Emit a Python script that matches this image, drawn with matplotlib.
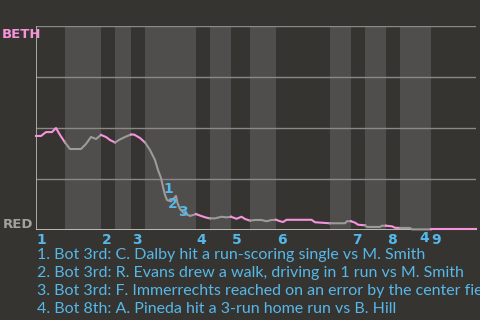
import numpy as np
import matplotlib.pyplot as plt

plt.rcParams['font.family'] = ['Lato', 'DejaVu Sans']
label_font = ['DejaVu Sans Condensed', 'DejaVu Sans']

# game progress (arbitrary units) and BETH win probability (%)
progress = [0, 5, 10, 16, 20, 24, 29, 34, 45, 50, 55, 60, 65, 70, 74, 79, 84, 89, 95, 98,
            104, 109, 114, 119, 122, 125, 127, 129, 131, 135, 140, 141.5, 144, 147, 154, 160,
            165, 170, 174, 179, 185.5, 190.5, 195, 200.5, 205.5, 209, 214, 219, 225.5, 230.5,
            235.5, 240, 244, 247, 250.5, 275.5, 279, 294, 309, 311, 315, 319, 322, 329, 331,
            344, 346, 350, 356, 359, 364, 374, 376, 395, 440]
beth_wp = [46.1, 46.1, 48.0, 48.0, 50.0, 46.6, 42.9, 39.7, 39.7, 42.2, 45.6, 44.6, 46.6, 45.6,
           44.1, 42.9, 44.4, 45.6, 46.8, 46.8, 45.1, 42.9, 39.2, 34.3, 29.4, 25.5, 21.1, 17.2,
           14.7, 14.0, 16.7, 13.2, 10.3, 8.6, 6.9, 7.8, 6.9, 6.1, 5.7, 5.7, 6.5, 6.2, 6.5, 5.5,
           6.5, 5.4, 4.6, 4.9, 4.9, 4.3, 4.9, 5.0, 4.3, 3.9, 5.0, 5.0, 3.8, 3.3, 3.3, 4.3, 4.3,
           3.6, 2.6, 2.3, 1.5, 1.5, 2.1, 2.1, 1.8, 1.1, 1.0, 1.0, 0.3, 0.3, 0.3]

# half-inning boundaries (top 1st, bot 1st, top 2nd, ...)
half_innings = [0, 29, 65, 79, 95, 109, 160, 174, 195, 214, 240, 294, 315, 329, 350, 364, 395, 440]
inning_labels = ['1', '2', '3', '4', '5', '6', '7', '8', '9']

# key events: where they happened and where their numbers sit (offset in points)
event_x = [132, 137, 147, 388]
event_offset = [(0, 8.5), (0, -3.2), (0, 0.2), (0, -6.5)]
event_text = [
    "1. Bot 3rd: C. Dalby hit a run-scoring single vs M. Smith",
    "2. Bot 3rd: R. Evans drew a walk, driving in 1 run vs M. Smith",
    "3. Bot 3rd: F. Immerrechts reached on an error by the center fielder, driving in 1 run vs M. Smith",
    "4. Bot 8th: A. Pineda hit a 3-run home run vs B. Hill",
]

bg = '#363430'
band = '#4f4e4c'
grid = '#8a8987'
pink = '#f693dc'
gray_line = '#9c9b99'
blue = '#55b8ea'

fig = plt.figure(figsize=(4.8, 3.2), dpi=100, facecolor=bg)
ax = fig.add_axes([36 / 480, 90 / 320, 440 / 480, 204 / 320])
ax.set_facecolor(bg)
ax.set_xlim(0, 440)
ax.set_ylim(0, 100)

# shade bottom halves
for i in range(1, len(half_innings) - 1, 2):
    ax.axvspan(half_innings[i], half_innings[i + 1], color=band, lw=0, zorder=0)

for yv in [25, 50, 75, 100]:
    ax.axhline(yv, color=grid, lw=1, zorder=1)

for s in ax.spines.values():
    s.set_visible(False)
ax.axvline(0, color='#bdbcba', lw=1.2, zorder=2)
ax.axhline(0, color='#cfcecc', lw=1.2, zorder=2)
ax.set_xticks([])
ax.set_yticks([])

# line coloured by half inning: pink while BETH bats, gray while RED bats
x = np.array(progress, dtype=float)
y = np.array(beth_wp)
for i in range(len(half_innings) - 1):
    a, b = half_innings[i], half_innings[i + 1]
    inside = (x > a) & (x < b)
    xs = np.concatenate([[a], x[inside], [b]])
    ys = np.interp(xs, x, y)
    ax.plot(xs, ys, color=pink if i % 2 == 0 else gray_line, lw=1.5,
            solid_joinstyle='round', zorder=3, clip_on=False)

for i, ex in enumerate(event_x):
    ax.annotate(str(i + 1), xy=(ex, np.interp(ex, x, y)), xytext=event_offset[i],
                textcoords='offset points', ha='center', va='center',
                color=blue, fontsize=10, fontweight='bold', family=label_font,
                zorder=4, annotation_clip=False)

for lbl, start in zip(inning_labels, half_innings[0::2]):
    ax.annotate(lbl, xy=(start, 0), xytext=(0.5, -2), textcoords='offset points',
                ha='left', va='top', color=blue, fontsize=10, fontweight='bold',
                family=label_font, annotation_clip=False)

fig.text(2 / 480, 1 - 28 / 320, 'BETH', color=pink, fontsize=9.5, fontweight='bold',
         family=label_font, ha='left', va='top')
fig.text(3 / 480, 1 - 227.5 / 320, 'RED', color='#a3a2a0', fontsize=9.5, fontweight='bold',
         family=label_font, ha='left', va='baseline')

for i, t in enumerate(event_text):
    fig.text(37 / 480, 1 - (259.3 + 17.8 * i) / 320, t, color=blue, fontsize=11.5,
             ha='left', va='baseline')

fig.savefig('out.png', dpi=100, facecolor=bg)
